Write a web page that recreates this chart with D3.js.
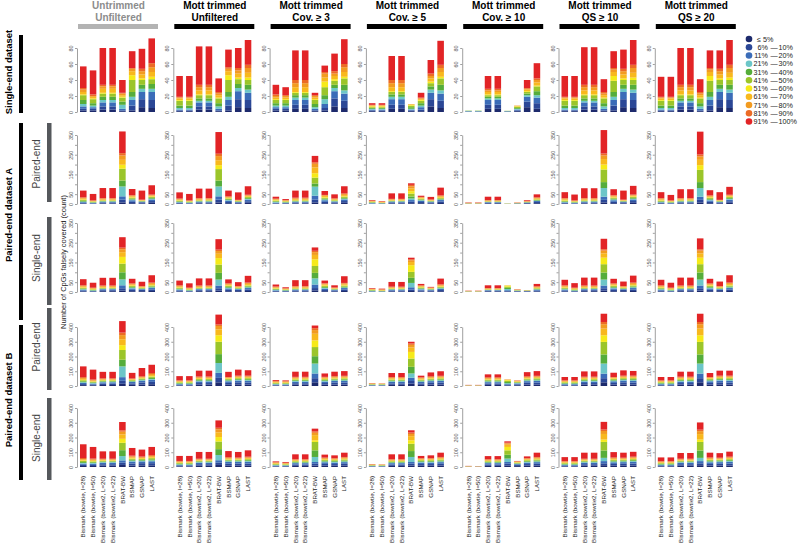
<!DOCTYPE html>
<html><head><meta charset="utf-8">
<script src="https://cdn.jsdelivr.net/npm/d3@7"></script>
<style>body{margin:0;background:#fff}svg{display:block}</style>
</head><body><svg id="c" width="800" height="544"></svg>
<script>
const bins = ["≤ 5%","6%|10%","11%|20%","21%|30%","31%|40%","41%|50%","51%|60%","61%|70%","71%|80%","81%|90%","91%|100%"];
const binColors = ["#1d2a6c","#2b4796","#3b6cb8","#6cc6c8","#55ad3b","#9bc52a","#f6ea18","#f8b81d","#f29b20","#ec6b25","#e22426"];
const methods = ["Bismark (bowtie, l=28)","Bismark (bowtie, l=50)","Bismark (bowtie2, L=20)","Bismark (bowtie2, L=22)","BRAT-BW","BSMAP","GSNAP","LAST"];
const filterLine1 = ["Untrimmed","Mott trimmed","Mott trimmed","Mott trimmed","Mott trimmed","Mott trimmed","Mott trimmed"];
const filterLine2 = ["Unfiltered","Unfiltered","Cov. ≥ 3","Cov. ≥ 5","Cov. ≥ 10","QS ≥ 10","QS ≥ 20"];
const datasets = ["Single-end dataset","Paired-end dataset A","Paired-end dataset B"];
const libraries = ["Paired-end","Single-end","Paired-end","Single-end"];
const yTitle = "Number of CpGs falsely covered (count)";
const ticksSE = [0,20,40,60,80], labelsSE = [0,20,40,60,80];
const ticksA = [0,50,100,150,200,250,300,350], labelsA = [0,50,150,250,350];
const ticksB = [0,100,200,300,400], labelsB = [0,100,200,300,400];

// [column][method][bin]
const singleEnd = [
 [[2,2,3,3,5,6,1,3,3,2,27],[2,2,2,2,3,5,1,2,1,2,30],[3,4,5,3,4,4,1,5,3,2,46],[3,4,5,3,4,4,1,5,3,2,46],[1,1,2,5,4,5,1,2,2,1,16],[2,6,7,4,6,15,6,5,3,1,21],[6,10,9,4,5,6,2,5,4,3,25],[5,10,10,4,6,6,3,6,6,5,31]],
 [[1,1,1,2,3,6,1,2,1,1,26],[1,1,1,2,3,6,1,2,1,1,26],[3,4,5,2,3,4,1,5,4,3,48],[3,4,5,2,3,4,1,5,4,3,48],[1,1,2,3,4,6,1,3,2,2,17],[2,6,7,4,6,15,6,5,3,2,22],[6,10,10,4,5,6,2,5,4,3,25],[5,10,9,4,6,6,3,6,6,4,31]],
 [[2,2,2,2,3,4,1,2,2,2,12],[2,2,2,2,3,4,1,2,2,1,10],[4,5,6,3,3,3,1,6,5,4,37],[4,5,6,3,3,3,1,6,5,4,37],[1,1,2,2,4,5,1,2,2,1,3],[2,3,5,6,5,10,7,5,5,2,8],[7,10,9,4,4,5,2,4,3,3,22],[5,9,9,4,7,8,2,6,6,4,31]],
 [[1,1,1,1,1,1,1,1,0.5,0.5,2],[1,1,1,1,1,1,1,1,0.5,0.5,2],[4,5,7,3,3,3,1,5,5,4,30],[4,5,7,3,3,3,1,5,5,4,30],[1,1,1,1,2,2,1,0.5,0.5,0,0],[1,2,3,2,3,3,1,1,1,1,6],[7,9,8,4,4,4,2,4,3,3,17],[5,9,9,4,7,8,2,6,5,4,30]],
 [[0.3,0.3,0.3,0.3,0.3,0.2,0,0,0,0,0],[0.3,0.3,0.3,0.3,0.3,0.2,0,0,0,0,0],[4,5,6,2,2,2,1,3,2,2,16],[4,5,6,2,2,2,1,3,2,2,16],[0.3,0.3,0.3,0.2,0.2,0.2,0,0,0,0,0],[1,1,1,1,1,1.5,0.5,0.5,0.5,0,0],[6,7,6,2,2,2,1,2,1,1,10],[4,7,7,3,5,6,1,4,3,2,19]],
 [[1,1,1,2,3,6,1,2,1,1,26],[1,1,1,2,3,6,1,2,1,1,26],[3,4,5,2,3,4,1,5,4,3,47],[3,4,5,2,3,4,1,5,4,3,47],[1,1,2,3,4,6,1,3,2,2,16],[2,6,7,4,6,14,6,5,3,2,21],[6,10,9,4,5,6,2,5,4,3,24],[5,10,9,4,6,6,3,6,6,4,31]],
 [[1,1,1,2,3,6,1,2,1,1,25],[1,1,1,2,3,6,1,2,1,1,25],[3,4,5,2,3,4,1,5,4,3,46],[3,4,5,2,3,4,1,5,4,3,46],[1,1,2,3,4,6,1,3,2,2,16],[2,6,7,4,6,14,6,5,3,2,22],[6,10,9,4,5,6,2,5,4,3,23],[5,10,9,4,6,6,3,6,6,4,31]]
];
const pairedA_PE = [
 [[2,3,4,3,4,5,2,4,4,3,34],[1,2,2,2,2,3,1,2,2,1,33],[3,4,4,2,2,3,1,4,4,3,51],[3,4,4,2,2,3,1,4,4,3,51],[8,14,17,50,30,60,20,25,22,12,110],[4,7,8,4,4,5,2,4,4,3,31],[3,5,3,1,2,2,1,2,2,1,46],[6,9,8,4,4,5,2,4,3,3,47]],
 [[2,3,3,2,3,4,2,3,3,3,31],[1,2,2,2,2,3,1,2,2,1,33],[3,4,4,2,2,3,1,4,4,3,48],[3,4,4,2,2,3,1,4,4,3,48],[8,14,17,50,30,58,20,25,21,12,110],[4,6,7,3,4,4,2,3,3,3,29],[3,4,3,1,2,2,1,2,2,1,38],[6,8,8,4,4,5,2,4,3,3,43]],
 [[2,2,3,3,3,4,2,3,3,2,10],[2,2,2,2,2,3,1,2,2,2,5],[3,4,4,2,2,3,1,5,4,4,36],[3,4,4,2,2,3,1,5,4,4,36],[8,14,20,46,16,30,22,30,18,8,32],[4,7,8,4,4,5,3,5,4,2,20],[3,5,4,2,2,3,1,3,3,3,20],[6,9,8,4,4,6,2,6,5,4,36]],
 [[1,1,2,2,2,2,1,2,2,2,3],[1,1,1,1,1,1,1,2,2,2,2],[3,4,4,2,2,2,1,3,3,2,28],[3,4,4,2,2,2,1,3,3,2,28],[4,7,9,8,10,15,12,14,10,8,8],[4,6,6,3,3,4,2,3,3,2,6],[3,4,3,2,2,2,1,2,2,2,13],[5,8,7,3,3,4,2,5,4,3,39]],
 [[0.5,0.5,0.5,0.5,0.5,0.5,0.5,1,1,1,1.5],[0.5,0.5,0.5,0.5,0.5,0.5,0.5,1,1,1,1.5],[3,3,3,1,1,2,1,2,2,2,17],[3,3,3,1,1,2,1,2,2,2,17],[0.3,0.3,0.3,0.3,0.3,0.5,0.5,0.3,0.2,0,0],[1,1,1,0.5,0.5,0.5,0.5,0.8,0.8,0.7,0.7],[2,3,2,1,1,1,0.5,1.5,1.5,1.5,4],[4,6,5,2,3,3,1,4,3,3,15]],
 [[2,3,3,2,3,4,2,4,4,3,30],[1,2,2,2,2,3,1,2,2,1,30],[3,4,4,2,2,3,1,4,4,3,50],[3,4,4,2,2,3,1,4,4,3,50],[8,13,16,44,30,64,25,28,18,10,119],[4,7,8,4,4,5,2,4,4,3,30],[3,5,3,1,2,2,1,2,2,1,46],[6,9,8,4,4,5,2,4,3,3,44]],
 [[2,3,3,2,3,4,2,4,4,3,30],[1,2,2,2,2,3,1,2,2,1,28],[3,4,4,2,2,3,1,4,4,3,45],[3,4,4,2,2,3,1,4,4,3,45],[8,13,16,44,30,62,24,27,17,10,116],[4,7,7,4,4,5,2,4,4,3,26],[3,4,3,1,2,2,1,2,2,1,39],[6,8,8,4,4,5,2,4,3,3,40]]
];
const pairedA_SE = [
 [[3,4,4,3,3,4,2,4,4,3,31],[2,2,2,2,2,3,1,3,3,2,25],[4,5,5,2,2,3,1,4,4,3,39],[4,5,5,2,2,3,1,4,4,3,39],[7,12,15,30,36,44,34,24,15,8,53],[4,7,7,4,4,5,2,4,4,3,23],[4,6,4,2,2,3,1,3,3,2,22],[5,8,7,4,4,5,2,5,5,3,37]],
 [[3,4,4,3,3,4,2,4,4,3,24],[2,2,2,2,2,3,1,3,3,2,22],[4,5,5,2,2,3,1,4,4,3,36],[4,5,5,2,2,3,1,4,4,3,36],[7,12,14,30,34,42,33,22,14,7,53],[4,7,7,4,4,5,2,4,4,3,20],[4,6,4,2,2,3,1,3,3,2,20],[5,8,7,4,4,5,2,5,5,3,34]],
 [[2,3,3,3,3,3,2,3,3,3,10],[2,2,2,2,2,2,1,2,2,2,5],[3,4,4,2,2,3,1,4,4,3,30],[3,4,4,2,2,3,1,4,4,3,30],[8,12,18,31,28,35,34,22,14,7,17],[4,6,7,4,4,5,3,5,4,2,14],[3,4,3,2,2,2,1,2,2,2,11],[5,8,7,3,4,5,2,5,4,3,34]],
 [[1,1,2,2,2,2,1,2,2,2,3],[1,1,1,1,1,2,1,2,2,2,3],[3,4,4,2,2,2,1,3,3,3,24],[3,4,4,2,2,2,1,3,3,3,24],[5,8,11,22,26,30,34,16,9,5,8],[3,5,5,3,3,4,2,3,3,3,7],[3,4,3,2,2,2,1,2,2,2,3],[4,6,6,3,3,4,2,4,4,3,29]],
 [[0.5,0.5,0.5,0.5,0.5,0.5,0.5,1,1,0.5,1],[0.5,0.5,0.5,0.5,0.5,0.5,0.5,1,1,0.5,1],[3,3,3,1,1,2,1,2,2,2,14],[3,3,3,1,1,2,1,2,2,2,14],[2,3,4,6,6,6,5,2,0,0,0],[2,2,2,1,1,1,1,1,1,1,1],[2,2,1,1,1,1,0.5,0.5,0.5,0.5,0],[3,4,4,2,3,3,1,3,3,3,12]],
 [[3,4,4,3,3,4,2,4,4,3,28],[2,2,2,2,2,3,1,3,3,2,23],[4,5,5,2,2,3,1,4,4,3,40],[4,5,5,2,2,3,1,4,4,3,40],[7,12,14,30,36,42,33,22,14,7,53],[4,7,7,4,4,5,2,4,4,3,23],[4,6,4,2,2,3,1,3,3,2,23],[5,8,7,4,4,5,2,5,5,3,35]],
 [[3,4,4,3,3,4,2,4,4,3,28],[2,2,2,2,2,3,1,3,3,2,25],[4,5,5,2,2,3,1,4,4,3,40],[4,5,5,2,2,3,1,4,4,3,40],[7,12,14,30,36,42,33,22,14,7,55],[4,7,7,4,4,5,2,4,4,3,23],[4,6,4,2,2,3,1,3,3,2,23],[5,8,7,4,4,5,2,5,5,3,37]]
];
const pairedB_PE = [
 [[6,7,8,5,6,7,3,6,6,6,73],[5,5,6,4,4,5,2,4,4,5,67],[7,9,9,4,4,5,2,4,4,4,44],[7,9,9,4,4,5,2,4,4,4,44],[15,20,25,73,45,66,33,40,28,17,78],[8,10,9,4,4,5,2,3,3,3,38],[10,14,12,4,5,6,2,4,4,5,56],[12,16,14,6,7,9,3,7,7,7,56]],
 [[3,4,5,4,4,5,2,4,4,3,29],[3,4,5,4,4,5,2,4,4,3,29],[9,11,11,5,5,6,2,5,5,5,40],[9,11,11,5,5,6,2,5,5,5,40],[25,30,34,67,60,84,44,40,23,10,67],[9,12,11,5,5,6,2,4,4,3,35],[11,14,12,5,5,6,2,5,5,5,41],[10,13,12,5,6,7,2,5,5,5,37]],
 [[3,3,4,3,3,4,2,4,4,4,6],[3,3,4,3,3,4,2,4,4,3,5],[9,10,10,5,5,6,2,5,5,5,35],[9,10,10,5,5,6,2,5,5,5,35],[25,28,32,67,50,62,45,45,25,13,18],[9,11,10,5,5,6,2,5,5,4,23],[10,13,11,5,5,6,2,5,5,5,30],[10,13,11,5,6,7,2,5,5,5,32]],
 [[2,2,2,2,2,2,1,2,2,2,1],[2,2,2,2,2,2,1,2,1,1,1],[8,10,10,5,5,6,2,5,5,5,27],[8,10,10,5,5,6,2,5,5,5,27],[16,18,22,29,45,56,45,30,18,10,11],[8,10,9,5,5,6,2,5,5,4,11],[10,12,11,5,5,6,2,5,5,5,26],[10,13,11,5,6,7,2,5,5,5,31]],
 [[0.5,0.5,0.5,0.5,0.5,0.5,0.5,1,1,1,1],[0.5,0.5,0.5,0.5,0.5,0.5,0.5,1,1,1,1],[8,9,9,5,5,6,2,5,5,5,20],[8,9,9,5,5,6,2,5,5,5,20],[4,4,5,6,8,8,5,3,1,1,0],[5,6,6,3,3,4,2,3,3,2,1],[10,12,11,5,5,6,2,5,5,5,28],[10,13,11,5,6,7,2,5,5,5,32]],
 [[3,4,5,4,4,5,2,4,4,3,23],[3,4,5,4,4,5,2,4,4,3,23],[9,11,10,5,5,6,2,5,5,5,36],[9,11,10,5,5,6,2,5,5,5,36],[25,28,31,68,62,85,45,45,30,15,56],[9,12,11,5,5,6,2,4,4,3,29],[11,14,12,5,5,6,2,5,5,5,36],[10,13,12,5,6,7,2,5,5,5,32]],
 [[3,4,5,4,4,5,2,4,4,3,23],[3,4,5,4,4,5,2,4,4,3,23],[9,11,10,5,5,6,2,5,5,5,34],[9,11,10,5,5,6,2,5,5,5,34],[25,28,31,68,62,85,45,45,30,15,56],[9,12,11,5,5,6,2,4,4,3,27],[11,14,12,5,5,6,2,5,5,5,34],[10,13,12,5,6,7,2,5,5,5,34]]
];
const pairedB_SE = [
 [[7,8,8,5,6,7,3,5,5,7,93],[7,7,8,5,5,6,3,5,5,6,79],[9,10,10,4,4,5,2,4,4,4,50],[9,10,10,4,4,5,2,4,4,4,50],[14,15,16,29,40,50,27,30,18,10,56],[10,14,13,6,6,7,3,6,6,6,52],[11,15,12,5,5,6,2,5,5,5,47],[11,15,13,6,7,8,3,6,6,6,55]],
 [[4,5,5,4,4,5,2,4,4,4,34],[4,5,5,4,4,5,2,4,4,4,34],[9,10,10,4,4,5,2,4,4,4,46],[9,10,10,4,4,5,2,4,4,4,46],[14,15,17,35,40,52,30,32,20,11,50],[9,13,12,5,5,6,2,5,5,5,41],[10,13,11,5,5,6,2,4,4,4,38],[10,13,12,5,6,7,2,5,5,5,43]],
 [[3,3,4,3,3,4,2,4,4,3,5],[3,3,3,3,3,3,2,3,3,3,5],[8,9,9,4,4,5,2,4,4,4,33],[8,9,9,4,4,5,2,4,4,4,33],[10,12,12,34,45,57,11,35,16,10,18],[9,12,11,5,5,6,2,5,5,4,20],[9,11,10,5,5,6,2,4,4,4,19],[10,12,11,5,6,7,2,5,5,5,29]],
 [[2,2,2,2,2,2,1,2,2,2,1],[2,2,2,2,2,2,1,2,1,1,1],[8,9,9,4,4,5,2,4,4,4,33],[8,9,9,4,4,5,2,4,4,4,33],[10,12,12,34,40,50,23,28,15,10,15],[9,11,10,5,5,6,2,4,4,4,15],[9,11,10,5,5,6,2,4,4,4,19],[10,12,11,5,6,7,2,5,5,5,29]],
 [[0.5,0.5,0.5,0.5,0.5,0.5,0.5,1,1,1,1],[0.5,0.5,0.5,0.5,0.5,0.5,0.5,0.5,0.5,0.5,1],[8,9,9,4,4,5,2,4,4,4,21],[8,9,9,4,4,5,2,4,4,4,21],[10,12,12,23,26,30,23,15,9,5,9],[6,7,6,3,3,4,2,3,3,2,2],[9,11,10,5,5,6,2,4,4,4,12],[10,12,11,5,6,7,2,5,5,5,29]],
 [[4,4,5,4,4,5,2,4,4,4,27],[4,4,5,4,4,5,2,4,4,4,27],[9,10,10,4,4,5,2,4,4,4,41],[9,10,10,4,4,5,2,4,4,4,41],[12,13,15,22,50,58,16,38,20,10,52],[9,12,11,5,5,6,2,5,5,5,36],[10,12,11,5,5,6,2,4,4,4,34],[10,13,12,5,6,7,2,5,5,5,33]],
 [[4,4,5,4,4,5,2,4,4,4,25],[4,4,5,4,4,5,2,4,4,4,25],[9,10,10,4,4,5,2,4,4,4,39],[9,10,10,4,4,5,2,4,4,4,39],[12,13,15,22,50,58,16,37,20,10,49],[9,12,11,5,5,6,2,5,5,5,32],[10,12,11,5,5,6,2,4,4,4,31],[10,13,12,5,6,7,2,5,5,5,34]]
];

// ---------- layout ----------
const FONT = "'Liberation Sans', Arial, Helvetica, sans-serif";
const svg = d3.select("#c").style("font-family", FONT);
const colX = d3.range(7).map(i => 80 + i * 96.3);
const panelW = 75;
const rowsCfg = [
  {data: singleEnd,  max: 80,  ticks: ticksSE, labels: labelsSE, y0: 112, y1: 48},
  {data: pairedA_PE, max: 350, ticks: ticksA,  labels: labelsA,  y0: 204, y1: 135},
  {data: pairedA_SE, max: 350, ticks: ticksA,  labels: labelsA,  y0: 292, y1: 223},
  {data: pairedB_PE, max: 400, ticks: ticksB,  labels: labelsB,  y0: 386, y1: 327},
  {data: pairedB_SE, max: 400, ticks: ticksB,  labels: labelsB,  y0: 467, y1: 408}
];
const color = d3.scaleOrdinal().domain(d3.range(bins.length)).range(binColors);
const stack = d3.stack().keys(d3.range(bins.length)).value((d, k) => d.vals[k]);

rowsCfg.forEach((rc, r) => {
  const y = d3.scaleLinear().domain([0, rc.max]).range([rc.y0, rc.y1]);
  rc.data.forEach((panel, c) => {
    const x = d3.scaleBand().domain(methods).range([colX[c], colX[c] + panelW]).paddingInner(0.33).paddingOuter(0);
    const g = svg.append("g");
    const table = methods.map((m, i) => ({method: m, vals: panel[i]}));
    const series = stack(table);
    g.selectAll("g.layer").data(series).join("g").attr("class", "layer")
      .attr("fill", s => color(s.key))
      .selectAll("rect").data(s => s).join("rect")
      .attr("x", d => x(d.data.method))
      .attr("width", x.bandwidth())
      .attr("y", d => y(d[1]))
      .attr("height", d => Math.max(0, y(d[0]) - y(d[1])));
    const ax = g.append("g").attr("transform", `translate(${colX[c] - 3},0)`)
      .call(d3.axisLeft(y).tickValues(rc.ticks).tickSize(2).tickSizeOuter(0)
        .tickFormat(v => rc.labels.includes(v) ? v : ""));
    ax.select(".domain").attr("stroke", "#777").attr("stroke-width", 0.7);
    ax.selectAll(".tick line").attr("stroke", "#777").attr("stroke-width", 0.7);
    ax.selectAll(".tick text").attr("transform", "rotate(-90)").attr("x", 0).attr("y", -4)
      .attr("dy", 0).attr("text-anchor", "middle").attr("fill", "#555")
      .style("font-size", "5.5px").style("font-family", FONT);
    if (r === rowsCfg.length - 1) {
      g.selectAll("text.xl").data(methods).join("text").attr("class", "xl")
        .attr("transform", m => `translate(${x(m) + x.bandwidth() / 2},476) rotate(-90)`)
        .attr("text-anchor", "end").attr("dy", "0.35em")
        .style("font-size", "6.2px").attr("fill", "#222").text(m => m);
    }
  });
});

// column headers
colX.forEach((cx, c) => {
  const mid = cx + panelW / 2 + 1;
  const col = c === 0 ? "#8c8c8c" : "#000";
  svg.append("text").attr("x", mid).attr("y", 9).attr("text-anchor", "middle")
    .style("font-size", "10px").style("font-weight", "bold").attr("fill", col).text(filterLine1[c]);
  svg.append("text").attr("x", mid).attr("y", 21).attr("text-anchor", "middle")
    .style("font-size", "10px").style("font-weight", "bold").attr("fill", col).text(filterLine2[c]);
  svg.append("rect").attr("x", cx - 2).attr("y", 24).attr("width", 80).attr("height", 5)
    .attr("fill", c === 0 ? "#b3b3b3" : "#000");
});

// dataset labels and bars
const dsBars = [[35, 113], [123, 320], [325, 480]];
const dsMid = [72, 215, 400];
datasets.forEach((t, i) => {
  svg.append("rect").attr("x", 19).attr("y", dsBars[i][0]).attr("width", 4)
    .attr("height", dsBars[i][1] - dsBars[i][0]).attr("fill", "#000");
  svg.append("text").attr("transform", `translate(9,${dsMid[i]}) rotate(-90)`)
    .attr("text-anchor", "middle").attr("dy", "0.35em")
    .style("font-size", "9.5px").style("font-weight", "bold").attr("fill", "#000").text(t);
});
const libBars = [[123, 202], [217, 305], [308, 390], [398, 480]];
const libMid = [164, 258, 347, 438];
libraries.forEach((t, i) => {
  svg.append("rect").attr("x", 47).attr("y", libBars[i][0]).attr("width", 4.5)
    .attr("height", libBars[i][1] - libBars[i][0]).attr("fill", "#55585c");
  svg.append("text").attr("transform", `translate(36,${libMid[i]}) rotate(-90)`)
    .attr("text-anchor", "middle").attr("dy", "0.35em")
    .style("font-size", "10px").attr("fill", "#444").text(t);
});
svg.append("text").attr("transform", "translate(63,262) rotate(-90)")
  .attr("text-anchor", "middle").attr("dy", "0.35em")
  .style("font-size", "7.5px").attr("fill", "#222").text(yTitle);

// legend
const lg = svg.append("g");
bins.forEach((b, i) => {
  const cy = 39 + i * 8.25;
  lg.append("circle").attr("cx", 749).attr("cy", cy).attr("r", 3.3).attr("fill", binColors[i]);
  const parts = b.split("|");
  if (parts.length === 1) {
    lg.append("text").attr("x", 757).attr("y", cy).attr("dy", "0.35em")
      .style("font-size", "7.2px").attr("fill", "#222").text(parts[0]);
  } else {
    lg.append("text").attr("x", 768).attr("y", cy).attr("dy", "0.35em").attr("text-anchor", "end")
      .style("font-size", "7.2px").attr("fill", "#222").text(parts[0]);
    lg.append("text").attr("x", 774).attr("y", cy).attr("dy", "0.35em").attr("text-anchor", "middle")
      .style("font-size", "7.2px").attr("fill", "#222").text("—");
    lg.append("text").attr("x", 778.5).attr("y", cy).attr("dy", "0.35em")
      .style("font-size", "7.2px").attr("fill", "#222").text(parts[1]);
  }
});
</script></body></html>
